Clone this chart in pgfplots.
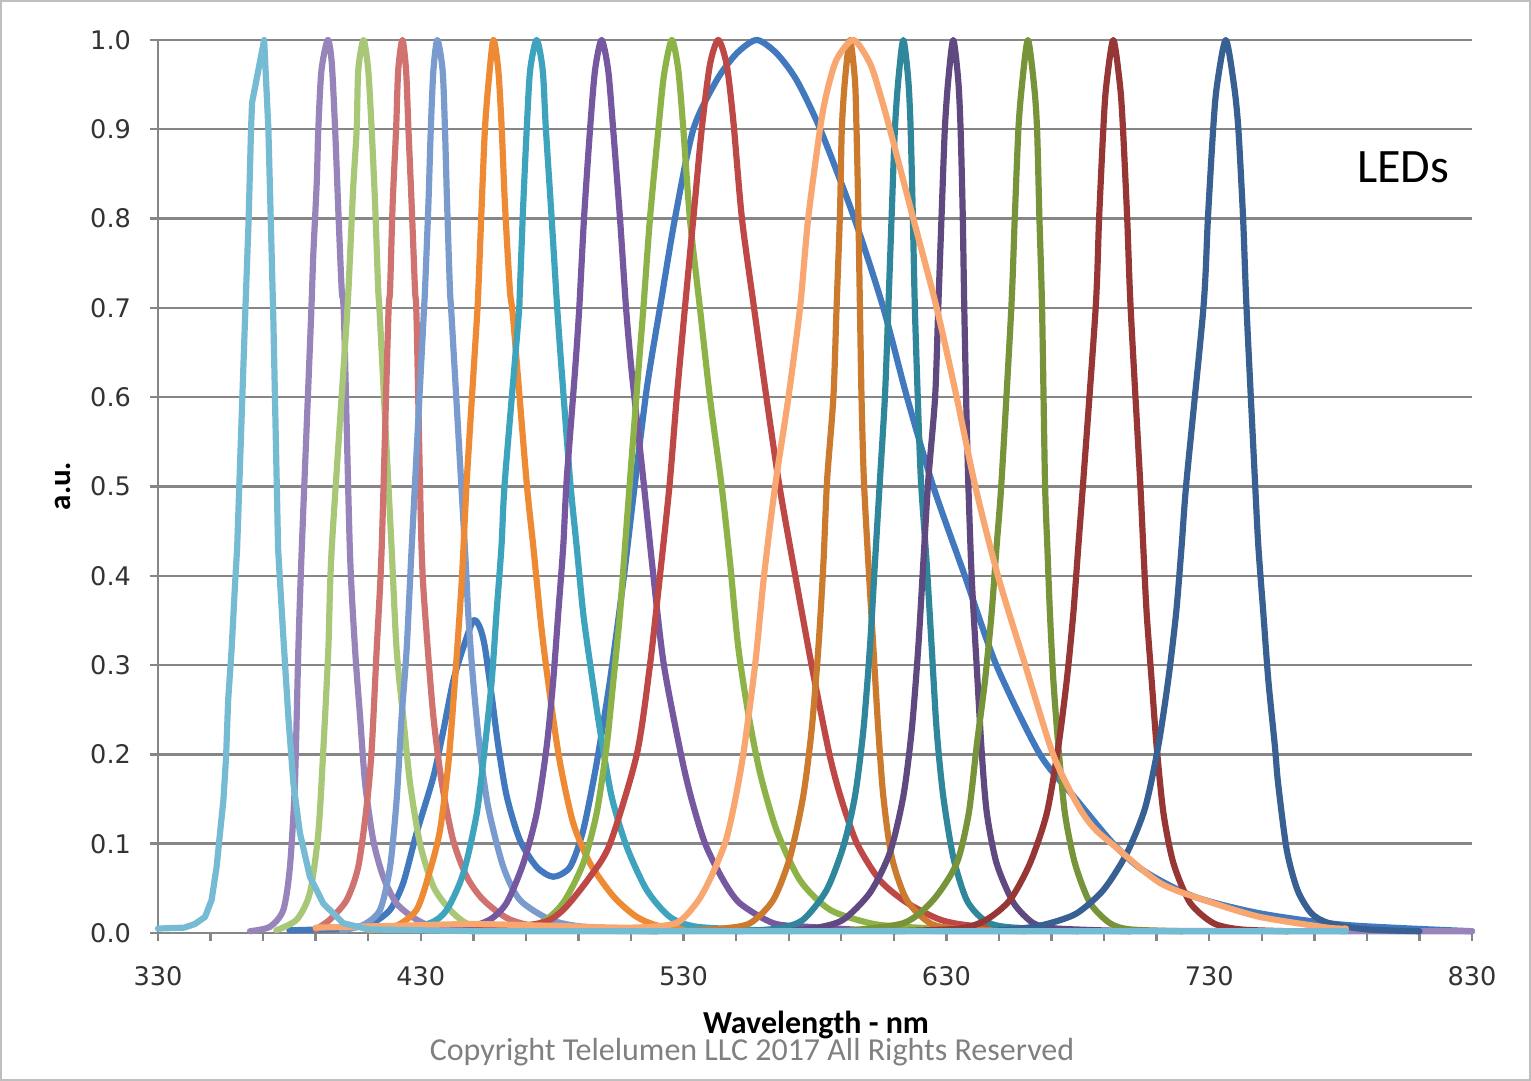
\documentclass[border=0pt]{standalone}
\usepackage{pgfplots}
\pgfplotsset{compat=1.18}
\usepackage{fontspec}
\setmainfont{Carlito}
\newfontfamily\tickfont{DejaVu Sans}
\definecolor{cA}{RGB}{117,187,211}
\definecolor{cB}{RGB}{150,132,186}
\definecolor{cC}{RGB}{168,200,120}
\definecolor{cD}{RGB}{207,114,112}
\definecolor{cE}{RGB}{122,155,205}
\definecolor{cF}{RGB}{238,137,52}
\definecolor{cG}{RGB}{62,164,190}
\definecolor{cH}{RGB}{117,88,160}
\definecolor{cI}{RGB}{141,179,72}
\definecolor{cJ}{RGB}{190,72,70}
\definecolor{cK}{RGB}{66,120,190}
\definecolor{cL}{RGB}{204,122,46}
\definecolor{cM}{RGB}{249,167,112}
\definecolor{cN}{RGB}{48,135,156}
\definecolor{cO}{RGB}{95,73,128}
\definecolor{cP}{RGB}{119,148,59}
\definecolor{cQ}{RGB}{150,55,53}
\definecolor{cR}{RGB}{56,96,146}
\definecolor{gridc}{RGB}{134,134,134}
\begin{document}
\begin{tikzpicture}[x=1pt,y=1pt]
\useasboundingbox (0,0) rectangle (765.5,540.5);
\draw[gray!50, line width=1pt] (0.5,0.5) rectangle (765,540);
\begin{axis}[
  at={(79pt,74pt)}, anchor=south west,
  width=657pt, height=446.5pt, scale only axis,
  xmin=330, xmax=830, ymin=0, ymax=1,
  clip=false,
  axis x line*=bottom, axis y line*=left,
  axis line style={gridc, line width=1.2pt},
  xtick={330,430,530,630,730,830},
  xticklabels={330,430,530,630,730,830},
  minor xtick={350,370,390,410,450,470,490,510,550,570,590,610,650,670,690,710,750,770,790,810},
  ytick={0,0.1,0.2,0.3,0.4,0.5,0.6,0.7,0.8,0.9,1.0},
  yticklabels={0.0,0.1,0.2,0.3,0.4,0.5,0.6,0.7,0.8,0.9,1.0},
  tick align=outside,
  major tick length=4pt, minor tick length=4pt,
  tick style={gridc, line width=1.2pt},
  ymajorgrids,
  grid style={gridc, line width=1.2pt},
  ticklabel style={font=\tickfont\fontsize{12.8}{14}\selectfont, text=black!80},
  xticklabel style={yshift=-9pt},
  yticklabel style={xshift=-6pt},
  every axis plot/.append style={line width=3.1pt, line join=round, line cap=round, smooth, tension=0.45},
]
% broad blue (white LED)
\addplot[cK] coordinates {(380,0.003)(400,0.005)(410.7,0.01)(418.3,0.026)(423.3,0.056)(428.4,0.112)(434.8,0.175)(438.6,0.227)(442.4,0.283)(446.2,0.32)(450,0.35)(452.5,0.342)(454.4,0.32)(457,0.265)(459.5,0.209)(462.7,0.153)(467.7,0.104)(474.1,0.074)(480.4,0.063)(486.8,0.074)(491.8,0.115)(496.9,0.19)(502,0.283)(507.1,0.395)(510.9,0.489)(516,0.61)(521,0.7)(526.7,0.8)(533.7,0.9)(542.6,0.955)(550.2,0.985)(557.8,1.0)(565.4,0.985)(573,0.955)(582,0.9)(595,0.8)(606,0.7)(615,0.6)(625,0.5)(637,0.4)(649,0.3)(665.6,0.2)(679.6,0.149)(693.5,0.1)(704.9,0.07)(724,0.041)(749.3,0.022)(782,0.009)(830,0.002)};
% lavender 394
\addplot[cB] coordinates {(365,0.002)(372.6,0.007)(377.7,0.026)(380.2,0.074)(382.1,0.168)(383.4,0.317)(384.7,0.43)(388.2,0.686)(389.1,0.76)(390.4,0.84)(391,0.9)(392.2,0.966)(394.6,1.0)(396.1,0.975)(397.4,0.9)(398.6,0.81)(399.9,0.72)(400.8,0.686)(403,0.43)(405,0.317)(406.9,0.242)(408.8,0.168)(411.9,0.104)(415.7,0.063)(420.8,0.033)(428.4,0.015)(436,0.007)(460,0.003)(830,0.002)};
% light green 408
\addplot[cC] coordinates {(375,0.003)(382.8,0.015)(387.8,0.045)(391,0.112)(392.9,0.205)(394.8,0.317)(396.1,0.43)(401.8,0.686)(403.1,0.76)(404.3,0.836)(405.6,0.9)(406.2,0.966)(408.2,1.0)(410,0.966)(411.3,0.9)(412.6,0.817)(413.8,0.72)(414.5,0.686)(418.9,0.43)(420.8,0.317)(423.3,0.242)(425.9,0.168)(429.7,0.1)(434.8,0.052)(441.1,0.026)(448,0.01)(460,0.004)(520,0.002)};
% salmon 423
\addplot[cD] coordinates {(390,0.004)(395.4,0.015)(401.8,0.037)(406.2,0.074)(409.4,0.142)(411.3,0.205)(413.2,0.317)(415.1,0.43)(417.6,0.686)(418.3,0.72)(419.3,0.817)(420.6,0.9)(421.4,0.966)(423,1.0)(424.4,0.966)(425.3,0.9)(426.5,0.817)(427.8,0.72)(428.4,0.686)(430.3,0.43)(432.2,0.336)(434.8,0.242)(438,0.168)(442.3,0.104)(447.5,0.063)(453.8,0.037)(464,0.015)(480,0.005)(520,0.002)};
% steel blue 436
\addplot[cE] coordinates {(400,0.003)(408.1,0.009)(414.5,0.026)(418.3,0.074)(420.8,0.149)(422.7,0.242)(424.6,0.317)(426.5,0.43)(431,0.686)(431.6,0.72)(432.9,0.817)(433.8,0.9)(434.8,0.966)(436.3,1.0)(438.3,0.966)(439.2,0.9)(440,0.817)(441.1,0.72)(441.8,0.686)(446.8,0.43)(448.1,0.355)(450,0.28)(452.5,0.205)(455.7,0.14)(461.4,0.074)(467.7,0.037)(479.2,0.015)(492,0.007)(520,0.003)};
% orange 457
\addplot[cF] coordinates {(410,0.003)(420,0.007)(428.4,0.026)(433.5,0.07)(437.3,0.115)(440.5,0.19)(443,0.283)(445.6,0.395)(447.5,0.507)(451.3,0.686)(451.9,0.72)(453.2,0.817)(454.4,0.9)(455.7,0.95)(457.6,1.0)(459.5,0.966)(460.8,0.9)(462,0.817)(463.9,0.72)(465.2,0.686)(470.2,0.507)(472.8,0.433)(476,0.339)(479.2,0.265)(483,0.19)(488,0.123)(494.4,0.078)(503.3,0.041)(512.2,0.018)(522,0.007)(540,0.003)};
% teal 474
\addplot[cG] coordinates {(420,0.004)(433.5,0.011)(439.9,0.026)(446.2,0.067)(451.3,0.134)(454.4,0.209)(457,0.283)(458.8,0.358)(460.7,0.433)(462,0.507)(467.1,0.686)(467.7,0.72)(469,0.817)(470.3,0.9)(471.6,0.966)(474.1,1.0)(476.4,0.966)(477.6,0.9)(479.8,0.8)(481.9,0.7)(483.6,0.63)(486.8,0.507)(489.3,0.433)(491.8,0.358)(494.4,0.302)(498.2,0.227)(502.6,0.153)(508.3,0.097)(516,0.048)(524.8,0.018)(535,0.007)(560,0.003)};
% purple 499
\addplot[cH] coordinates {(430,0.003)(446,0.005)(456.3,0.015)(462.7,0.034)(469,0.078)(474.1,0.134)(477.9,0.209)(480.4,0.283)(482.3,0.358)(484.2,0.433)(485.5,0.507)(488.7,0.63)(490.3,0.7)(492.1,0.8)(494.4,0.9)(496.3,0.966)(498.8,1.0)(501.3,0.966)(503.2,0.9)(505.8,0.8)(508.1,0.7)(510.2,0.63)(514.7,0.507)(518.5,0.4)(522.5,0.3)(529,0.2)(533,0.15)(538.2,0.1)(545.1,0.059)(551.5,0.033)(564.1,0.011)(576.8,0.007)(600,0.003)};
% green 525
\addplot[cI] coordinates {(460,0.003)(475.4,0.011)(484.2,0.034)(491.8,0.078)(496.9,0.134)(500.7,0.209)(503.3,0.283)(505.8,0.358)(507.7,0.433)(509.6,0.507)(512.8,0.63)(514.7,0.7)(517.2,0.8)(520.4,0.9)(522.5,0.96)(525.5,1.0)(528,0.966)(529.9,0.9)(532.4,0.8)(536.2,0.7)(540,0.6)(544.5,0.5)(547.7,0.414)(550.8,0.32)(554.6,0.246)(559.1,0.179)(565.4,0.115)(574.3,0.059)(585.7,0.026)(600.9,0.011)(613,0.007)(640,0.003)};
% red 543
\addplot[cJ] coordinates {(450,0.003)(475.4,0.011)(484.2,0.026)(494.4,0.063)(502,0.1)(512.2,0.2)(517.2,0.3)(521,0.4)(524.6,0.5)(527.4,0.6)(530.5,0.7)(533.7,0.8)(536.9,0.9)(540,0.972)(543.2,1.0)(546.4,0.972)(548.9,0.91)(552.2,0.8)(556.8,0.7)(561.5,0.6)(566.5,0.5)(572.5,0.4)(578.7,0.3)(585.5,0.2)(590,0.15)(596,0.1)(604.7,0.059)(614.9,0.034)(627.6,0.015)(640.2,0.008)(670,0.003)};
% dark orange 593
\addplot[cL] coordinates {(530,0.002)(545,0.005)(555.3,0.011)(564.1,0.037)(570.5,0.085)(575.5,0.153)(578.7,0.227)(581.3,0.32)(583.2,0.414)(584.6,0.507)(587,0.6)(588.2,0.7)(589.5,0.806)(590.2,0.9)(591.4,0.955)(593.3,1.0)(595.2,0.955)(595.8,0.9)(596.5,0.806)(597.1,0.7)(597.7,0.6)(598.6,0.507)(600.3,0.414)(602.2,0.32)(604.1,0.227)(606,0.153)(609.2,0.085)(614.9,0.037)(623.8,0.011)(634,0.005)(660,0.002)};
% dark teal 614
\addplot[cN] coordinates {(550,0.002)(566,0.005)(575.5,0.015)(584.4,0.048)(590.8,0.097)(595.2,0.153)(598.4,0.227)(600.9,0.32)(602.8,0.414)(604.7,0.507)(606.6,0.6)(607.9,0.7)(609.2,0.806)(610.4,0.9)(611.7,0.955)(613.6,1.0)(615.5,0.955)(616.4,0.9)(617.2,0.806)(618,0.7)(619.1,0.6)(620.3,0.507)(622.5,0.414)(624.4,0.32)(626.3,0.227)(628.8,0.153)(632.6,0.085)(637.7,0.037)(644.1,0.015)(652,0.007)(680,0.002)};
% dark purple 632
\addplot[cO] coordinates {(570,0.002)(581,0.006)(590.8,0.015)(600.9,0.045)(608.5,0.09)(613.6,0.153)(616.8,0.227)(619.3,0.32)(621.2,0.414)(623.1,0.507)(625.7,0.6)(626.9,0.7)(628.2,0.806)(629.4,0.9)(630.7,0.955)(632.6,1.0)(634.5,0.955)(635.4,0.9)(636.2,0.806)(636.8,0.7)(637.5,0.6)(638.3,0.507)(639.6,0.4)(641.5,0.3)(643.5,0.2)(645.4,0.134)(649.1,0.078)(655.5,0.034)(663.1,0.011)(672,0.005)(700,0.002)};
% olive 661
\addplot[cP] coordinates {(590,0.002)(613.6,0.011)(625,0.037)(633.9,0.078)(638.5,0.134)(641.5,0.209)(644.7,0.283)(647.2,0.358)(649.1,0.433)(651,0.507)(654.7,0.7)(656,0.8)(657.4,0.9)(658.7,0.948)(661,1.0)(663.4,0.948)(664.5,0.9)(665.4,0.8)(666.4,0.7)(667.5,0.507)(668.4,0.433)(669.4,0.358)(670.7,0.283)(672.6,0.209)(675.1,0.134)(678.9,0.078)(684.6,0.034)(692.2,0.011)(700,0.004)(720,0.002)};
% dark red 693
\addplot[cQ] coordinates {(610,0.002)(635,0.005)(645.3,0.015)(654.2,0.037)(661.8,0.078)(668.2,0.134)(672.6,0.209)(675.8,0.283)(678.3,0.358)(680.2,0.433)(682.1,0.507)(686.8,0.7)(688.1,0.8)(689.7,0.9)(690.8,0.948)(693.5,1.0)(696.1,0.948)(697.2,0.9)(698.8,0.8)(700.1,0.7)(703.7,0.507)(704.9,0.433)(706.2,0.358)(708.1,0.283)(710,0.209)(712.6,0.134)(716.4,0.078)(722.7,0.034)(731.6,0.011)(742,0.004)(760,0.002)};
% dark blue 736
\addplot[cR] coordinates {(650,0.003)(661,0.006)(669.4,0.011)(679.6,0.022)(689.7,0.048)(698.6,0.089)(705.6,0.14)(710.6,0.209)(714.4,0.283)(717.4,0.358)(719.5,0.433)(721.4,0.507)(727.8,0.7)(729.5,0.8)(731.5,0.9)(732.9,0.948)(736.3,1.0)(739.5,0.948)(741.1,0.9)(742.9,0.8)(744.2,0.7)(747.4,0.507)(748.7,0.433)(750.6,0.358)(752.5,0.283)(755,0.209)(756.2,0.168)(759.5,0.093)(763.6,0.048)(768.9,0.022)(775.6,0.011)(790,0.004)(810,0.002)};
% peach broad 595
\addplot[cM] coordinates {(390,0.006)(420,0.008)(450,0.01)(480,0.008)(510,0.006)(527,0.011)(535,0.034)(540,0.06)(545.7,0.1)(549,0.14)(552.7,0.2)(557.2,0.3)(560.6,0.4)(564.8,0.5)(569.9,0.6)(574.3,0.7)(577.4,0.8)(581.9,0.9)(584.4,0.94)(588.2,0.978)(594.6,1.0)(600.9,0.974)(604.7,0.94)(608.5,0.9)(617.4,0.8)(626.3,0.7)(633.9,0.6)(641,0.5)(649.6,0.4)(660,0.3)(670.6,0.2)(680,0.143)(686,0.118)(692.9,0.1)(711.3,0.056)(730,0.035)(749.3,0.018)(775,0.006)(782,0.005)};
% light cyan 370 (coarse data)
\addplot[cA, sharp plot] coordinates {(330,0.005)(340,0.006)(344,0.01)(347.9,0.018)(350.4,0.037)(352.3,0.074)(353.6,0.112)(354.9,0.149)(355.9,0.197)(356.7,0.261)(358,0.317)(359.3,0.39)(360.1,0.43)(363.1,0.686)(364.5,0.8)(365.4,0.9)(365.8,0.93)(370.4,1.0)(372,0.9)(372.9,0.8)(373.9,0.686)(375.7,0.43)(377.6,0.336)(379.6,0.242)(381.5,0.168)(384,0.112)(387.8,0.063)(392.9,0.033)(400.5,0.011)(410,0.004)(450,0.002)(782,0.002)};
\end{axis}
\node[font=\fontsize{24}{28}\selectfont] at (701.5,457) {LEDs};
\node[font=\bfseries\fontsize{16}{19}\selectfont] at (408,28) {Wavelength - nm};
\node[font=\fontsize{16}{19}\selectfont, text=black!50] at (376,14.5) {Copyright Telelumen LLC 2017 All Rights Reserved};
\node[font=\bfseries\fontsize{15.5}{18}\selectfont, rotate=90] at (31.5,297.5) {a.u.};
\end{tikzpicture}
\end{document}
